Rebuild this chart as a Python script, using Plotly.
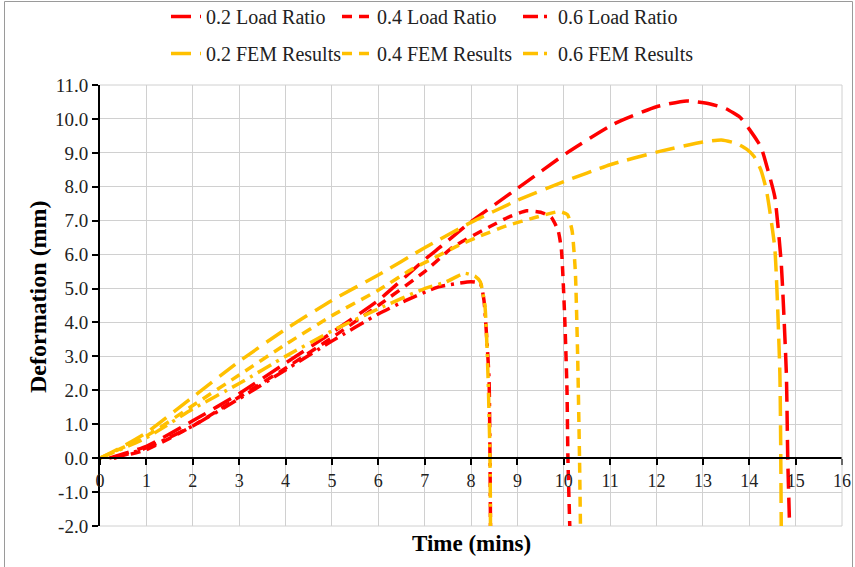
import plotly.graph_objects as go

# ---------------- data ----------------
t_lr02 = [0.2, 1, 2, 3, 4, 5, 6, 7, 7.36, 8, 9, 10.07, 11.08, 12, 12.65, 13.16, 13.5, 13.8, 14.0, 14.25, 14.4, 14.55, 14.69, 14.8, 14.83, 14.87]
d_lr02 = [0.0, 0.35, 1.1, 1.9, 2.8, 3.7, 4.65, 5.85, 6.25, 6.97, 7.95, 9.0, 9.85, 10.36, 10.53, 10.44, 10.3, 10.05, 9.7, 9.18, 8.5, 7.71, 5.74, 2.5, 0.0, -2.0]

t_lr04 = [0.3, 1, 2, 3, 4, 5, 6, 7, 7.62, 8.4, 8.8, 9.2, 9.5, 9.73, 9.88, 9.95, 10.02, 10.07, 10.09, 10.13]
d_lr04 = [0.0, 0.25, 0.95, 1.8, 2.65, 3.55, 4.5, 5.5, 6.23, 6.82, 7.1, 7.29, 7.25, 7.1, 6.7, 6.14, 4.17, 2.0, 0.0, -2.0]

t_lr06 = [0.3, 1, 2, 3, 4, 5, 6, 6.6, 7.3, 8.0, 8.2, 8.28, 8.35, 8.39, 8.41, 8.42]
d_lr06 = [0.0, 0.3, 0.95, 1.75, 2.6, 3.45, 4.25, 4.65, 5.05, 5.2, 5.15, 4.65, 3.3, 2.3, 0.0, -2.0]

t_fem02 = [0, 0.5, 1, 2, 3, 4, 5, 6, 7, 8, 9, 10, 11, 12, 13, 13.4, 13.72, 13.95, 14.1, 14.25, 14.37, 14.55, 14.66, 14.69]
d_fem02 = [0.0, 0.35, 0.75, 1.8, 2.85, 3.8, 4.65, 5.4, 6.2, 6.95, 7.6, 8.15, 8.65, 9.02, 9.32, 9.38, 9.28, 9.1, 8.9, 8.5, 7.9, 6.2, 2.5, -2.0]

t_fem04 = [0, 1, 2, 3, 4, 5, 6, 6.7, 7.2, 7.7, 8.2, 8.77, 9.4, 9.9, 10.08, 10.18, 10.25, 10.3, 10.34, 10.36]
d_fem04 = [0.0, 0.65, 1.55, 2.45, 3.35, 4.2, 4.95, 5.55, 5.9, 6.25, 6.55, 6.85, 7.1, 7.27, 7.18, 6.7, 5.5, 3.0, 0.0, -2.0]

t_fem06 = [0, 1, 2, 3, 4, 5, 6, 7, 7.47, 7.86, 8.1, 8.2, 8.3, 8.37, 8.41, 8.42]
d_fem06 = [0.0, 0.6, 1.45, 2.2, 3.0, 3.75, 4.4, 5.0, 5.2, 5.45, 5.35, 5.2, 4.5, 2.3, 0.0, -2.0]

names = ["0.2 Load Ratio", "0.4 Load Ratio", "0.6 Load Ratio",
         "0.2 FEM Results", "0.4 FEM Results", "0.6 FEM Results"]

x_ticks = list(range(0, 17))
y_tickvals = list(range(-2, 12))
y_ticktext = ["-2.0", "-1.0", "0.0", "1.0", "2.0", "3.0", "4.0", "5.0",
              "6.0", "7.0", "8.0", "9.0", "10.0", "11.0"]

# ---------------- styles ----------------
RED = "#FF0000"
YEL = "#FFC000"
FONT = "Liberation Serif"
TXT = "#222222"
dash_long = "20px,9px"
dash_med = "10px,7px"
dash_dd = "15px,6px,3px,6px"

series = [
    (t_lr02, d_lr02, names[0], RED, dash_long, "legend", "g1"),
    (t_fem02, d_fem02, names[3], YEL, dash_long, "legend", "g2"),
    (t_lr04, d_lr04, names[1], RED, dash_med, "legend2", "g3"),
    (t_fem04, d_fem04, names[4], YEL, dash_med, "legend2", "g4"),
    (t_lr06, d_lr06, names[2], RED, dash_dd, "legend3", "g5"),
    (t_fem06, d_fem06, names[5], YEL, dash_dd, "legend3", "g6"),
]

fig = go.Figure()
for tx, dy, nm, col, dash, lg, grp in series:
    fig.add_trace(go.Scatter(
        x=tx, y=dy, name=nm, mode="lines", legend=lg, legendgroup=grp,
        line=dict(color=col, width=3.5, dash=dash, shape="spline", smoothing=0.5),
    ))

L, R, T, B = 100, 13, 85, 41
W, H = 855, 567
pw, ph = W - L - R, H - T - B

def px_x(p):
    return (p - L) / pw

def px_y(p):
    return (H - B - p) / ph

leg_common = dict(
    orientation="v", xanchor="left", yanchor="top",
    font=dict(family=FONT, size=20, color=TXT),
    bgcolor="rgba(0,0,0,0)", borderwidth=0, tracegroupgap=8,
    itemwidth=30, traceorder="grouped",
)
leg_top = px_y(-3)
fig.update_layout(
    width=W, height=H,
    margin=dict(l=L, r=R, t=T, b=B, autoexpand=False),
    paper_bgcolor="white", plot_bgcolor="white",
    font=dict(family=FONT, size=18, color=TXT),
    legend=dict(x=px_x(166), y=leg_top, **leg_common),
    legend2=dict(x=px_x(337), y=leg_top, **leg_common),
    legend3=dict(x=px_x(518), y=leg_top, **leg_common),
    xaxis=dict(
        range=[0, 16], tickvals=x_ticks, ticktext=[str(v) for v in x_ticks],
        showgrid=True, gridcolor="#D0D0D0", gridwidth=1,
        showline=True, linecolor="black", linewidth=2,
        ticks="outside", ticklen=6, tickwidth=2, tickcolor="black",
        anchor="free", position=2 / 13, zeroline=False,
        tickfont=dict(family=FONT, size=18, color=TXT),
    ),
    yaxis=dict(
        range=[-2, 11], tickvals=y_tickvals, ticktext=y_ticktext,
        showgrid=True, gridcolor="#D0D0D0", gridwidth=1,
        showline=True, linecolor="black", linewidth=2,
        ticks="outside", ticklen=6, tickwidth=2, tickcolor="black",
        zeroline=False,
        tickfont=dict(family=FONT, size=19, color=TXT),
    ),
    annotations=[
        dict(text="<b>Deformation (mm)</b>", xref="paper", yref="paper",
             x=px_x(38), y=px_y(297), showarrow=False, textangle=-90,
             xanchor="center", yanchor="middle",
             font=dict(family=FONT, size=24, color="black")),
        dict(text="<b>Time (mins)</b>", xref="paper", yref="paper",
             x=px_x(471), y=px_y(543), showarrow=False,
             xanchor="center", yanchor="middle",
             font=dict(family=FONT, size=23, color="black")),
    ],
    shapes=[
        dict(type="rect", xref="paper", yref="paper",
             x0=px_x(4.5), x1=px_x(852.5), y0=px_y(575), y1=px_y(1.5),
             line=dict(color="#9A9A9A", width=1), fillcolor="rgba(0,0,0,0)",
             layer="below"),
        dict(type="line", xref="paper", yref="paper",
             x0=1, x1=1, y0=0, y1=1, line=dict(color="#D0D0D0", width=1)),
        dict(type="line", xref="paper", yref="paper",
             x0=0, x1=1, y0=1, y1=1, line=dict(color="#D0D0D0", width=1)),
        dict(type="line", xref="paper", yref="paper",
             x0=0, x1=1, y0=0, y1=0, line=dict(color="#D0D0D0", width=1),
             layer="below"),
    ],
)

fig.write_html("out.html")
